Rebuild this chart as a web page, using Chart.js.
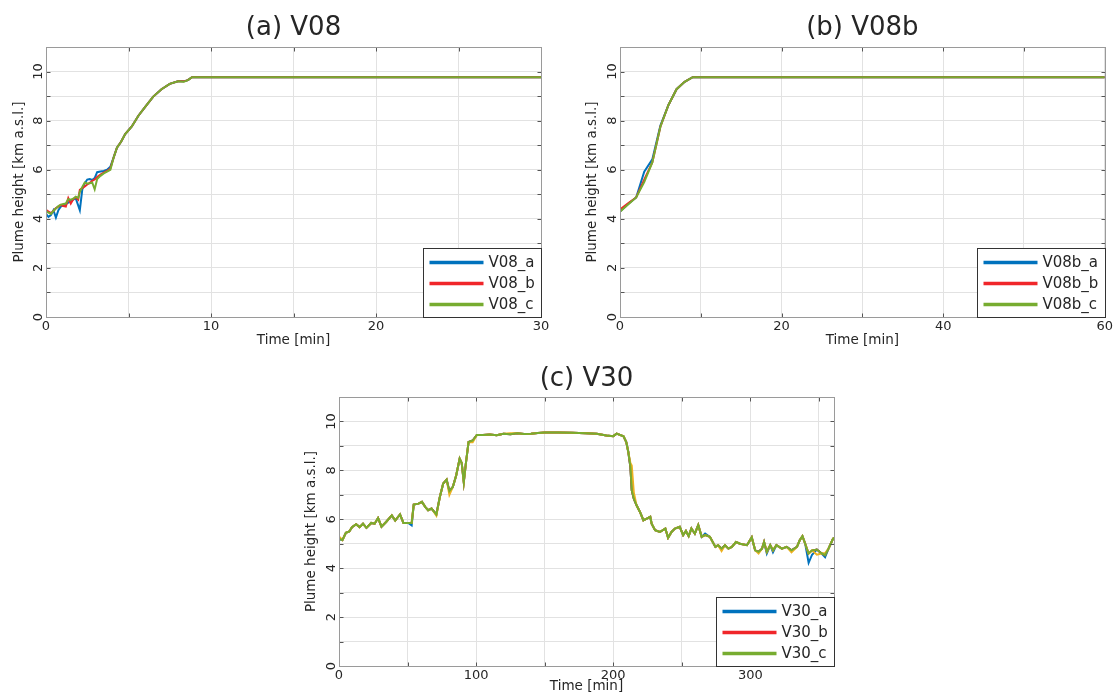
<!DOCTYPE html>
<html><head><meta charset="utf-8">
<script src="https://cdn.jsdelivr.net/npm/chart.js@4.4.1/dist/chart.umd.min.js"></script>
<style>
html,body{margin:0;padding:0;background:#fff;overflow:hidden;width:1115px;height:695px;position:relative;}
.panel{position:absolute;}
canvas{display:block;}
</style></head><body>
<div class="panel" style="left:0;top:0;width:560px;height:360px"><canvas id="cA" width="560" height="360"></canvas></div>
<div class="panel" style="left:575px;top:0;width:540px;height:360px"><canvas id="cB" width="540" height="360"></canvas></div>
<div class="panel" style="left:290px;top:350px;width:560px;height:345px"><canvas id="cC" width="560" height="345"></canvas></div>
<script>
// ---------- Panel (a) V08 ----------
const timeA = [0, 0.15, 0.3, 0.45, 0.6, 0.75, 0.9, 1.05, 1.2, 1.35,
  1.5, 1.65, 1.8, 1.95, 2.05, 2.2, 2.35, 2.5, 2.65, 2.8,
  2.95, 3.1, 3.3, 3.5, 3.7, 3.9, 4.1, 4.3, 4.55, 4.8,
  5.2, 5.6, 6.0, 6.5, 7.0, 7.5, 8.0, 8.35, 8.6, 8.85, 30];
const V08_a = [4.2, 4.08, 4.15, 4.35, 4.05, 4.35, 4.5, 4.55, 4.6, 4.66,
  4.72, 4.78, 4.84, 4.55, 4.35, 5.2, 5.45, 5.6, 5.62, 5.58,
  5.66, 5.9, 5.93, 5.95, 6.0, 6.12, 6.5, 6.9, 7.14, 7.45,
  7.76, 8.2, 8.55, 8.98, 9.28, 9.5, 9.6, 9.6, 9.65, 9.77, 9.77];
const V08_b = [4.37, 4.3, 4.23, 4.32, 4.44, 4.5, 4.57, 4.52, 4.5, 4.84,
  4.62, 4.8, 4.88, 4.78, 5.18, 5.25, 5.32, 5.4, 5.46, 5.55,
  5.6, 5.7, 5.8, 5.88, 5.95, 6.05, 6.5, 6.9, 7.14, 7.45,
  7.76, 8.2, 8.55, 8.98, 9.28, 9.5, 9.6, 9.6, 9.65, 9.77, 9.77];
const V08_c = [4.3, 4.25, 4.2, 4.32, 4.42, 4.52, 4.58, 4.6, 4.62, 4.8,
  4.78, 4.82, 4.9, 4.85, 5.1, 5.3, 5.48, 5.44, 5.45, 5.48,
  5.2, 5.62, 5.75, 5.85, 5.92, 6.0, 6.5, 6.9, 7.14, 7.45,
  7.76, 8.2, 8.55, 8.98, 9.28, 9.5, 9.6, 9.58, 9.65, 9.77, 9.77];

// ---------- Panel (b) V08b ----------
const timeB = [0, 1, 2, 3, 4, 5, 6, 7, 8, 9, 60];
const V08b_a = [4.3, 4.6, 4.87, 5.92, 6.42, 7.8, 8.64, 9.28, 9.58, 9.77, 9.77];
const V08b_b = [4.38, 4.63, 4.87, 5.6, 6.3, 7.75, 8.64, 9.28, 9.58, 9.77, 9.77];
const V08b_c = [4.29, 4.58, 4.87, 5.5, 6.3, 7.75, 8.64, 9.28, 9.58, 9.77, 9.77];

// ---------- Panel (c) V30 ----------
const timeC = [0, 2.5, 5, 7.5, 9.5, 12.5, 15, 17.5, 20, 23.5,
  26, 28.5, 31, 34.5, 38.5, 41, 44.5, 47, 50.5, 53,
  54.5, 58, 60.5, 63, 65, 67.5, 71, 73.5, 76, 78.5,
  80.5, 83, 85.5, 88, 89.5, 91, 92.5, 94.5, 97.5, 100.5,
  105, 110, 115, 120, 125, 130, 135, 140, 145, 150,
  160, 170, 180, 188, 192, 195, 200, 202.5, 207.5, 209.5,
  211, 212.5, 213.5, 215, 217, 219.5, 222, 224.5, 227, 228,
  230.5, 234, 238, 240, 242.5, 245, 248.5, 251, 253, 255,
  257, 259.5, 262, 264.5, 267, 270.5, 274.5, 276.5, 279, 281.5,
  284, 286.5, 289.5, 292.5, 297.5, 301, 303.5, 306, 308.5, 310,
  312, 314.5, 316.5, 319, 323, 326.5, 330, 334, 336, 338,
  340, 342.5, 345, 348.5, 352, 354.5, 357, 360, 361];
const V30_a = [5.18, 5.15, 5.45, 5.5, 5.68, 5.8, 5.68, 5.82, 5.65, 5.85,
  5.82, 6.05, 5.7, 5.9, 6.16, 5.95, 6.2, 5.85, 5.85, 5.75,
  6.6, 6.64, 6.71, 6.5, 6.37, 6.44, 6.2, 6.9, 7.46, 7.62,
  7.15, 7.32, 7.8, 8.48, 8.3, 7.52, 8.27, 9.16, 9.22, 9.45,
  9.45, 9.47, 9.44, 9.5, 9.48, 9.52, 9.49, 9.5, 9.53, 9.55,
  9.55, 9.54, 9.52, 9.5, 9.46, 9.43, 9.4, 9.5, 9.39, 9.16,
  8.75, 8.14, 7.18, 6.84, 6.57, 6.3, 5.96, 6.03, 6.1, 5.82,
  5.55, 5.48, 5.62, 5.24, 5.48, 5.62, 5.69, 5.35, 5.52, 5.31,
  5.62, 5.41, 5.76, 5.28, 5.42, 5.28, 4.87, 4.94, 4.8, 4.94,
  4.8, 4.87, 5.07, 5.0, 4.94, 5.26, 4.73, 4.67, 4.8, 5.07,
  4.6, 4.94, 4.65, 4.94, 4.8, 4.87, 4.73, 4.87, 5.14, 5.31,
  5.0, 4.22, 4.55, 4.76, 4.6, 4.45, 4.8, 5.17, 5.25];
const V30_b = [5.25, 5.15, 5.45, 5.5, 5.68, 5.8, 5.68, 5.82, 5.65, 5.85,
  5.82, 6.05, 5.7, 5.9, 6.16, 5.95, 6.2, 5.85, 5.85, 5.85,
  6.6, 6.64, 6.71, 6.5, 6.37, 6.44, 6.2, 6.9, 7.46, 7.62,
  7.15, 7.32, 7.8, 8.48, 8.3, 7.52, 8.27, 9.16, 9.22, 9.45,
  9.45, 9.47, 9.44, 9.5, 9.48, 9.52, 9.49, 9.5, 9.53, 9.55,
  9.55, 9.54, 9.52, 9.5, 9.46, 9.43, 9.4, 9.5, 9.39, 9.16,
  8.75, 8.14, 7.18, 6.84, 6.57, 6.3, 5.96, 6.03, 6.1, 5.82,
  5.55, 5.48, 5.62, 5.24, 5.48, 5.62, 5.69, 5.35, 5.52, 5.31,
  5.62, 5.41, 5.76, 5.28, 5.35, 5.28, 4.87, 4.94, 4.8, 4.94,
  4.8, 4.87, 5.07, 5.0, 4.94, 5.26, 4.73, 4.67, 4.8, 5.07,
  4.67, 4.94, 4.73, 4.94, 4.8, 4.87, 4.73, 4.87, 5.14, 5.31,
  5.0, 4.6, 4.73, 4.76, 4.6, 4.53, 4.8, 5.17, 5.25];
const V30_c = [5.2, 5.15, 5.45, 5.5, 5.68, 5.8, 5.68, 5.82, 5.65, 5.85,
  5.82, 6.05, 5.7, 5.9, 6.16, 5.95, 6.2, 5.85, 5.85, 5.85,
  6.6, 6.64, 6.71, 6.5, 6.37, 6.44, 6.2, 6.9, 7.46, 7.62,
  7.15, 7.32, 7.8, 8.48, 8.3, 7.52, 8.27, 9.16, 9.22, 9.45,
  9.45, 9.47, 9.44, 9.5, 9.48, 9.52, 9.49, 9.5, 9.53, 9.55,
  9.55, 9.54, 9.52, 9.5, 9.46, 9.43, 9.4, 9.5, 9.39, 9.16,
  8.75, 8.14, 7.18, 6.84, 6.57, 6.3, 5.96, 6.03, 6.1, 5.82,
  5.55, 5.48, 5.62, 5.24, 5.48, 5.62, 5.69, 5.35, 5.52, 5.31,
  5.62, 5.41, 5.76, 5.28, 5.35, 5.28, 4.87, 4.94, 4.8, 4.94,
  4.8, 4.87, 5.07, 5.0, 4.94, 5.26, 4.73, 4.67, 4.8, 5.07,
  4.67, 4.94, 4.73, 4.94, 4.8, 4.87, 4.73, 4.87, 5.14, 5.31,
  5.0, 4.6, 4.73, 4.76, 4.6, 4.53, 4.8, 5.17, 5.25];
// fourth (unlabelled, orange) trace visible beneath the others in panel (c)
const V30_extra = [5.3, 5.15, 5.45, 5.5, 5.68, 5.8, 5.68, 5.82, 5.65, 5.85,
  5.82, 6.05, 5.7, 5.9, 6.16, 5.95, 6.2, 5.85, 5.85, 5.85,
  6.6, 6.64, 6.71, 6.5, 6.37, 6.44, 6.15, 6.9, 7.46, 7.62,
  7.0, 7.32, 7.8, 8.48, 8.3, 7.52, 8.27, 9.16, 9.15, 9.45,
  9.45, 9.47, 9.44, 9.5, 9.52, 9.52, 9.49, 9.5, 9.53, 9.55,
  9.55, 9.54, 9.52, 9.5, 9.46, 9.43, 9.4, 9.5, 9.39, 9.16,
  8.75, 8.3, 8.2, 7.1, 6.57, 6.3, 5.96, 6.03, 6.1, 5.82,
  5.55, 5.48, 5.62, 5.24, 5.48, 5.62, 5.69, 5.35, 5.52, 5.31,
  5.62, 5.41, 5.76, 5.28, 5.35, 5.28, 4.87, 4.94, 4.7, 4.94,
  4.8, 4.87, 5.07, 5.0, 4.94, 5.26, 4.73, 4.6, 4.8, 5.07,
  4.67, 4.94, 4.73, 4.94, 4.8, 4.87, 4.65, 4.87, 5.14, 5.31,
  5.0, 4.6, 4.73, 4.55, 4.6, 4.62, 4.8, 5.17, 5.25];

// ---------- styling ----------
const FONT = 'DejaVu Sans';
const TEXT = '#262626';
const BLUE = '#0072BD', RED = '#F0262A', GREEN = '#77AC30', ORANGE = '#EDB120';

function pts(ts, vs) { return ts.map((t, i) => ({x: t, y: vs[i]})); }
function ds(label, ts, vs, color, order) {
  return {label: label, data: pts(ts, vs), borderColor: color, backgroundColor: color,
    borderWidth: 2, pointRadius: 0, tension: 0, fill: false, order: order};
}

const framePlugin = {
  id: 'frame',
  afterDatasetsDraw(chart) {
    const {ctx, chartArea, scales} = chart;
    const L = Math.round(chartArea.left) + 0.5, R = Math.round(chartArea.right) + 0.5;
    const T = Math.round(chartArea.top) + 0.5, B = Math.round(chartArea.bottom) + 0.5;
    ctx.save();
    ctx.strokeStyle = '#555';
    ctx.lineWidth = 1;
    ctx.beginPath();
    scales.x.ticks.forEach(t => {
      const p = Math.round(scales.x.getPixelForValue(t.value)) + 0.5;
      ctx.moveTo(p, B); ctx.lineTo(p, B - 4);
      ctx.moveTo(p, T); ctx.lineTo(p, T + 4);
    });
    scales.y.ticks.forEach(t => {
      const p = Math.round(scales.y.getPixelForValue(t.value)) + 0.5;
      ctx.moveTo(L, p); ctx.lineTo(L + 4, p);
      ctx.moveTo(R, p); ctx.lineTo(R - 4, p);
    });
    ctx.stroke();
    ctx.strokeStyle = '#9a9a9a';
    ctx.strokeRect(L, T, R - L, B - T);
    ctx.restore();
  }
};

const boxLegend = {
  id: 'boxLegend',
  afterDraw(chart) {
    const items = chart.data.datasets.filter(d => d.label);
    const {ctx, chartArea} = chart;
    ctx.save();
    ctx.font = '15px "' + FONT + '"';
    const textW = Math.max.apply(null, items.map(d => ctx.measureText(d.label).width));
    const padL = 6, lineLen = 54, gap = 5, padR = 7, rowH = 21, boxH = 69;
    const w = Math.round(padL + lineLen + gap + textW + padR);
    const x0 = Math.round(chartArea.right) - w + 0.5, y0 = Math.round(chartArea.bottom) - boxH + 0.5;
    ctx.fillStyle = '#fff';
    ctx.fillRect(x0, y0, w, boxH);
    ctx.strokeStyle = '#333';
    ctx.lineWidth = 1;
    ctx.strokeRect(x0, y0, w, boxH);
    items.forEach((d, i) => {
      const cy = y0 + 14 + i * rowH;
      ctx.strokeStyle = d.borderColor;
      ctx.lineWidth = 3.5;
      ctx.beginPath();
      ctx.moveTo(x0 + padL, cy); ctx.lineTo(x0 + padL + lineLen, cy);
      ctx.stroke();
      ctx.fillStyle = TEXT;
      ctx.textBaseline = 'middle';
      ctx.textAlign = 'left';
      ctx.fillText(d.label, x0 + padL + lineLen + gap, cy + 1);
    });
    ctx.restore();
  }
};

function makeChart(id, g, titleText, xr, datasets) {
  return new Chart(document.getElementById(id), {
    type: 'line',
    data: {datasets: datasets},
    options: {
      responsive: false, animation: false, devicePixelRatio: 1, events: [],
      layout: {padding: {left: 0, right: g.padRight, top: 0, bottom: 0}},
      plugins: {
        legend: {display: false},
        tooltip: {enabled: false},
        title: {display: true, text: titleText, fullSize: false, color: TEXT,
          font: {family: FONT, size: 26, weight: 'normal'},
          padding: {top: g.titleTop, bottom: g.titleBottom}}
      },
      scales: {
        x: {
          type: 'linear', min: xr.min, max: xr.max,
          afterFit: s => { s.height = g.xHeight; },
          grid: {color: '#e2e2e2', lineWidth: 1, drawTicks: false},
          border: {display: false},
          ticks: {stepSize: xr.step, includeBounds: false, maxRotation: 0, minRotation: 0, padding: 2,
            color: TEXT, font: {family: FONT, size: 13},
            callback: v => (v % xr.labelStep === 0 ? String(v) : '')},
          title: {display: true, text: 'Time [min]', color: TEXT, font: {family: FONT, size: 13.5},
            padding: {top: 0, bottom: g.xTitlePad}}
        },
        y: {
          type: 'linear', min: 0, max: 11,
          afterFit: s => { s.width = g.yWidth; },
          grid: {color: '#e2e2e2', lineWidth: 1, drawTicks: false},
          border: {display: false},
          ticks: {stepSize: 1, minRotation: 90, maxRotation: 90, crossAlign: 'center', padding: -1,
            color: TEXT, font: {family: FONT, size: 13},
            callback: v => (v % 2 === 0 ? String(v) : '')},
          title: {display: true, text: 'Plume height [km a.s.l.]', color: TEXT, font: {family: FONT, size: 13.5},
            padding: {top: g.yTitlePad, bottom: 0}}
        }
      }
    },
    plugins: [framePlugin, boxLegend]
  });
}

makeChart('cA',
  {padRight: 19, yWidth: 46, xHeight: 43, titleTop: 12.2, titleBottom: 3.6, xTitlePad: 11, yTitlePad: 11},
  '(a) V08', {min: 0, max: 30, step: 5, labelStep: 10},
  [ds('V08_a', timeA, V08_a, BLUE, 3), ds('V08_b', timeA, V08_b, RED, 2), ds('V08_c', timeA, V08_c, GREEN, 0)]);

makeChart('cB',
  {padRight: 8, yWidth: 45, xHeight: 43, titleTop: 12.2, titleBottom: 3.6, xTitlePad: 11, yTitlePad: 8.9},
  '(b) V08b', {min: 0, max: 60, step: 10, labelStep: 20},
  [ds('V08b_a', timeB, V08b_a, BLUE, 3), ds('V08b_b', timeB, V08b_b, RED, 2), ds('V08b_c', timeB, V08b_c, GREEN, 0)]);

makeChart('cC',
  {padRight: 16, yWidth: 49, xHeight: 29, titleTop: 13.4, titleBottom: 2.4, xTitlePad: 0, yTitlePad: 12.9},
  '(c) V30', {min: 0, max: 361, step: 50, labelStep: 100},
  [ds('V30_a', timeC, V30_a, BLUE, 3), ds('V30_b', timeC, V30_b, RED, 2), ds('V30_c', timeC, V30_c, GREEN, 0),
   ds('', timeC, V30_extra, ORANGE, 1)]);
</script>
</body></html>
